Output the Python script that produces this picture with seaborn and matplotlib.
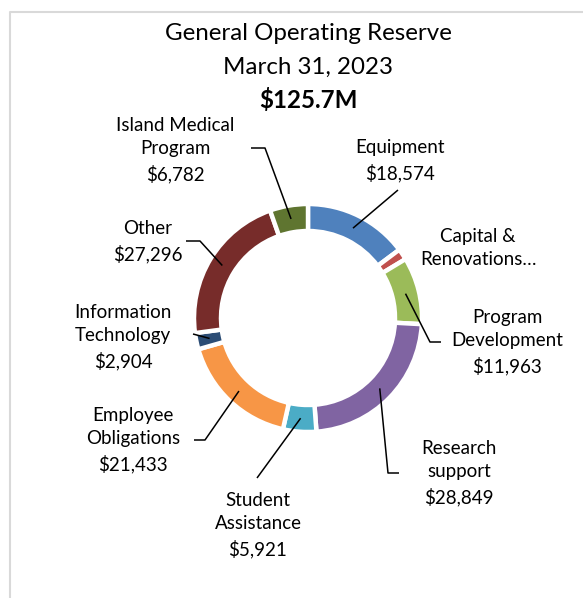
import matplotlib
matplotlib.use("Agg")
import matplotlib.pyplot as plt
import numpy as np
import seaborn as sns

# data (thousands of $)
categories = ["Equipment", "Capital & Renovations", "Program Development", "Research support",
              "Student Assistance", "Employee Obligations", "Information Technology", "Other",
              "Island Medical Program"]
values = [18574, 1978, 11963, 28849, 5921, 21433, 2904, 27296, 6782]
label_text = ["Equipment\n$18,574", "Capital &\nRenovations…", "Program\nDevelopment\n$11,963",
              "Research\nsupport\n$28,849", "Student\nAssistance\n$5,921", "Employee\nObligations\n$21,433",
              "Information\nTechnology\n$2,904", "Other\n$27,296", "Island Medical\nProgram\n$6,782"]
hex_colors = ["#4F81BD", "#C0504D", "#9BBB59", "#8064A2", "#4BACC6", "#F79646",
              "#2C4D75", "#772C2A", "#5F7530"]

sns.set_theme(style="white")
plt.rcParams["font.family"] = ["Lato", "DejaVu Sans"]
colors = sns.color_palette(hex_colors)

W, H = 583, 598
fig = plt.figure(figsize=(W / 100, H / 100), dpi=100)
ax = fig.add_axes([0, 0, 1, 1])

cx, cy, r_out, ring = 308, H - 318, 114, 27
wedges, _ = ax.pie(values, colors=colors, startangle=90, counterclock=False,
                   center=(cx, cy), radius=r_out,
                   wedgeprops=dict(width=ring, edgecolor="white", linewidth=3.2))
ax.set_xlim(0, W)
ax.set_ylim(0, H)
ax.set_aspect("auto")
ax.axis("off")

# label centers (pixel coords from top) and leader elbow / end points
label_pos = [(400, 161), (478, 248), (507, 342), (459, 473), (258, 525),
             (133, 440), (123, 337), (148, 242), (175, 150)]
leaders = [
    [(398, 190)],
    None,
    [(430, 342), (441, 342)],
    [(388, 473), (399, 473)],
    [(257, 478)],
    [(205, 440), (194, 440)],
    [(193, 334)],
    [(200, 241), (186, 241)],
    [(265, 148), (251, 148)],
]

total = sum(values)
start = 90.0
r_mid = r_out - ring / 2
for i, v in enumerate(values):
    sweep = 360.0 * v / total
    mid = np.deg2rad(start - sweep / 2)
    start -= sweep
    ax0 = cx + r_mid * np.cos(mid)
    ay0 = cy + r_mid * np.sin(mid)
    if leaders[i] is not None:
        xs = [ax0] + [p[0] for p in leaders[i]]
        ys = [ay0] + [H - p[1] for p in leaders[i]]
        ax.plot(xs, ys, color="black", lw=1.1, solid_capstyle="butt")
    lx, ly = label_pos[i]
    ax.text(lx, H - ly, label_text[i], ha="center", va="center", fontsize=13.5,
            linespacing=1.48, color="black")

ax.text(cx, H - 33, "General Operating Reserve", ha="center", va="center", fontsize=17.4, color="black")
ax.text(cx, H - 67, "March 31, 2023", ha="center", va="center", fontsize=17.4, color="black")
ax.text(cx, H - 100, "$125.7M", ha="center", va="center", fontsize=17.4, fontweight="bold", color="black")

# chart frame edges
ax.plot([10, 10, W], [0, H - 12, H - 12], color="#d9d9d9", lw=1.5, clip_on=False)

fig.savefig("out.png", dpi=100, facecolor="white")
